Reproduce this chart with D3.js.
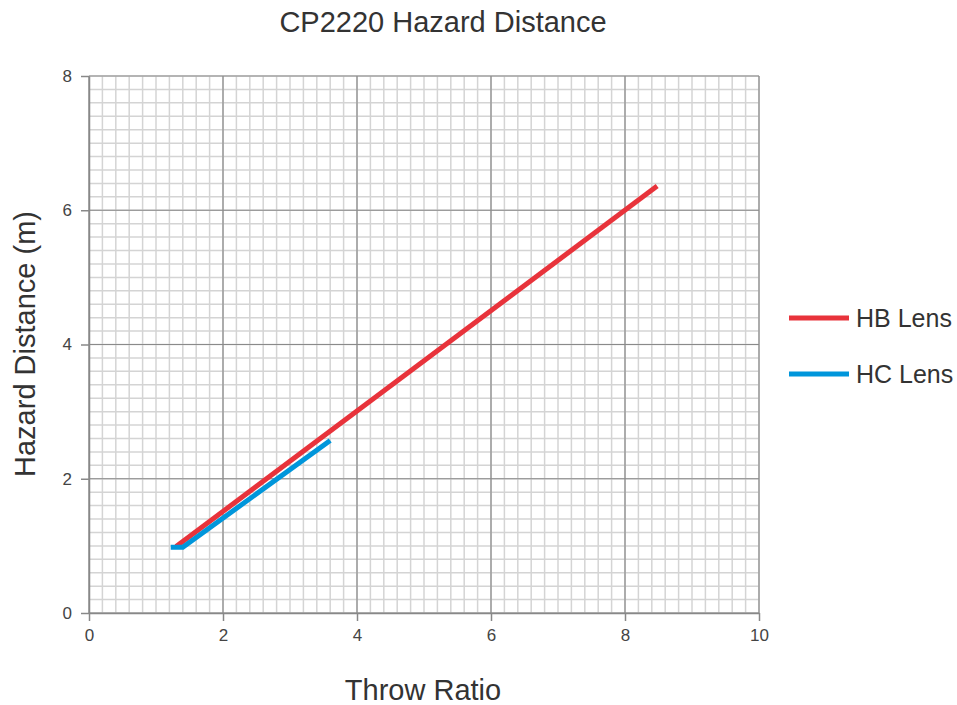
<!DOCTYPE html>
<html>
<head>
<meta charset="utf-8">
<script src="https://cdn.jsdelivr.net/npm/d3@7"></script>
<style>
  body { margin: 0; background: #fff; }
  svg text { font-family: Arial, "Liberation Sans", Helvetica, sans-serif; fill: #333; }
  svg .tick text { font-size: 17px; fill: #444; }
</style>
</head>
<body>
<div id="chart"></div>
<script>
// data
const seriesNames = ["HB Lens", "HC Lens"];
const seriesColors = ["#e8333b", "#0096db"];
const hbThrow = [1.3, 8.48];
const hbHazard = [0.99, 6.36];
const hcThrow = [1.22, 1.4, 3.6];
const hcHazard = [0.98, 0.98, 2.57];
const xTicks = [0, 2, 4, 6, 8, 10];
const yTicks = [0, 2, 4, 6, 8];

const width = 957, height = 705;
const margin = { top: 76, right: 198, bottom: 92, left: 89 };
const w = width - margin.left - margin.right;
const h = height - margin.top - margin.bottom;
const font = "Arial, 'Liberation Sans', Helvetica, sans-serif";

const svg = d3.select("#chart").append("svg")
  .attr("width", width).attr("height", height);

const g = svg.append("g").attr("transform", `translate(${margin.left},${margin.top})`);

const x = d3.scaleLinear().domain([0, 10]).range([0, w]);
const y = d3.scaleLinear().domain([0, 8]).range([h, 0]);

// minor grid every 0.2
const minor = d3.range(0, 10.001, 0.2);
const minorY = d3.range(0, 8.001, 0.2);
g.append("g").selectAll("line").data(minor).enter().append("line")
  .attr("x1", d => x(d)).attr("x2", d => x(d)).attr("y1", 0).attr("y2", h)
  .attr("stroke", "#d4d4d4").attr("stroke-width", 1.5);
g.append("g").selectAll("line").data(minorY).enter().append("line")
  .attr("y1", d => y(d)).attr("y2", d => y(d)).attr("x1", 0).attr("x2", w)
  .attr("stroke", "#d4d4d4").attr("stroke-width", 1.5);

// major grid
g.append("g").selectAll("line").data(xTicks).enter().append("line")
  .attr("x1", d => x(d)).attr("x2", d => x(d)).attr("y1", 0).attr("y2", h)
  .attr("stroke", "#8a8a8a").attr("stroke-width", 1.2);
g.append("g").selectAll("line").data(yTicks).enter().append("line")
  .attr("y1", d => y(d)).attr("y2", d => y(d)).attr("x1", 0).attr("x2", w)
  .attr("stroke", "#8a8a8a").attr("stroke-width", 1.2);

// axes
const xAxis = g.append("g").attr("transform", `translate(0,${h})`)
  .call(d3.axisBottom(x).tickValues(xTicks).tickSize(8).tickPadding(8).tickSizeOuter(0));
const yAxis = g.append("g")
  .call(d3.axisLeft(y).tickValues(yTicks).tickSize(8).tickPadding(9).tickSizeOuter(0));
[xAxis, yAxis].forEach(a => {
  a.attr("font-size", null).attr("font-family", null);
  a.select(".domain").attr("stroke", "#888").attr("stroke-width", 1.5);
  a.selectAll(".tick line").attr("stroke", "#888").attr("stroke-width", 1.5);
});

// lines
const line = d3.line().x(d => x(d[0])).y(d => y(d[1]));
const series = [
  d3.zip(hbThrow, hbHazard),
  d3.zip(hcThrow, hcHazard)
];
series.forEach((s, i) => {
  g.append("path").datum(s)
    .attr("d", line)
    .attr("fill", "none")
    .attr("stroke", seriesColors[i])
    .attr("stroke-width", 5);
});

// titles
svg.append("text").attr("x", 443).attr("y", 32).attr("text-anchor", "middle")
  .style("font-family", font).style("font-size", "29px").text("CP2220 Hazard Distance");
svg.append("text").attr("x", 423).attr("y", 700).attr("text-anchor", "middle")
  .style("font-family", font).style("font-size", "29px").text("Throw Ratio");
svg.append("text").attr("transform", "translate(35,344) rotate(-90)")
  .attr("text-anchor", "middle").style("font-family", font)
  .style("font-size", "29px").text("Hazard Distance (m)");

// legend
const legend = svg.append("g").attr("transform", "translate(789,318)");
seriesNames.forEach((name, i) => {
  const row = legend.append("g").attr("transform", `translate(0,${i * 56})`);
  row.append("line").attr("x1", 0).attr("x2", 60).attr("y1", 0).attr("y2", 0)
    .attr("stroke", seriesColors[i]).attr("stroke-width", 5);
  row.append("text").attr("x", 67).attr("y", 9).style("font-family", font)
    .style("font-size", "25px").text(name);
});
</script>
</body>
</html>
